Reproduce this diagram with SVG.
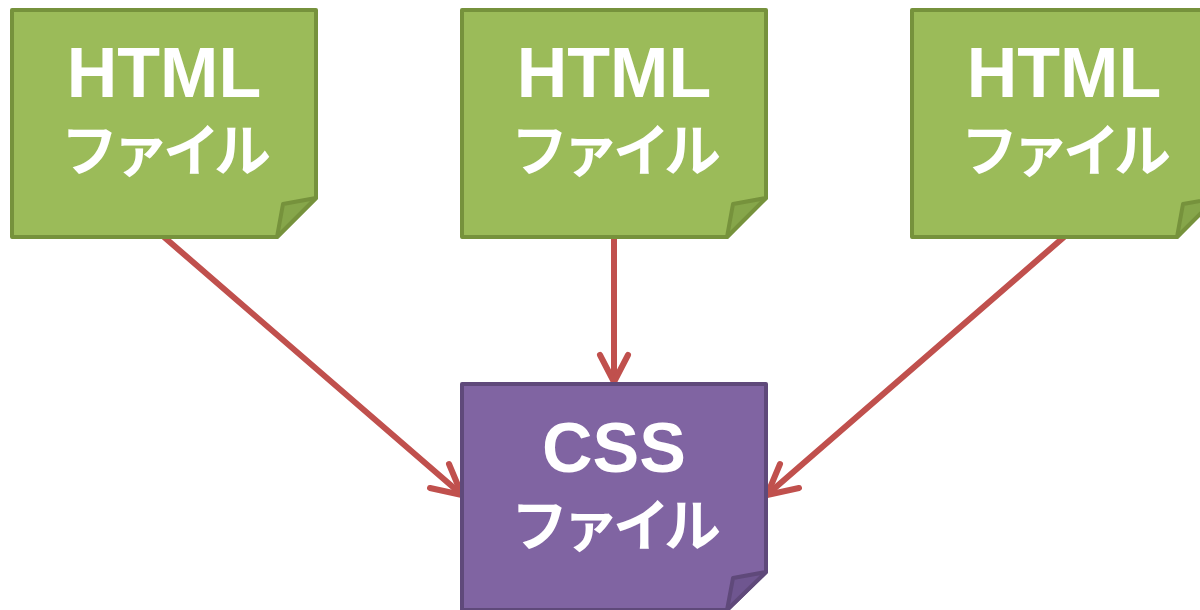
<svg xmlns="http://www.w3.org/2000/svg" width="1200" height="610" viewBox="0 0 1200 610">
<style>
.g{fill:#9BBB59;stroke:#76923C;stroke-width:4;stroke-linejoin:round}
.gf{fill:#86A64A;stroke:#76923C;stroke-width:4;stroke-linejoin:round}
.p{fill:#8064A2;stroke:#5F497A;stroke-width:4;stroke-linejoin:round}
.pf{fill:#6F5690;stroke:#5F497A;stroke-width:4;stroke-linejoin:round}
.t{fill:#fff;font-family:"Liberation Sans","Noto Sans CJK JP",sans-serif;font-weight:bold;text-anchor:middle}
.t1{font-size:70px}
.t2{font-size:57px;font-family:"Noto Sans CJK JP",sans-serif;letter-spacing:-6px}
.c{stroke:#C0504D;stroke-width:6;fill:none;stroke-linecap:round;stroke-linejoin:round}
</style>
<g id="connectors">
<path class="c" d="M164,237 L461,494"/>
<path class="c" d="M449,464 L462,495 L430,488"/>
<path class="c" d="M614,237 L614,381"/>
<path class="c" d="M600,355 L614,382 L628,355"/>
<path class="c" d="M1064,237 L768,494"/>
<path class="c" d="M780,464 L767,495 L799,488"/>
</g>
<g id="html1">
<path class="g" d="M12,10 H316 V198 L277,237 H12 Z"/>
<path class="gf" d="M316,198 L283,204 L277,237 Z"/>
<text class="t t1" x="164" y="97">HTML</text>
<text class="t t2" x="163" y="171">ファイル</text>
</g>
<g id="html2">
<path class="g" d="M462,10 H766 V198 L727,237 H462 Z"/>
<path class="gf" d="M766,198 L733,204 L727,237 Z"/>
<text class="t t1" x="614" y="97">HTML</text>
<text class="t t2" x="613" y="171">ファイル</text>
</g>
<g id="html3">
<path class="g" d="M912,10 H1216 V198 L1177,237 H912 Z"/>
<path class="gf" d="M1216,198 L1183,204 L1177,237 Z"/>
<text class="t t1" x="1064" y="97">HTML</text>
<text class="t t2" x="1063" y="171">ファイル</text>
</g>
<g id="css">
<path class="p" d="M462,384 H766 V572 L727,610 H462 Z"/>
<path class="pf" d="M766,572 L733,578 L727,610 Z"/>
<text class="t t1" x="614" y="472">CSS</text>
<text class="t t2" x="613" y="546">ファイル</text>
</g>
</svg>
